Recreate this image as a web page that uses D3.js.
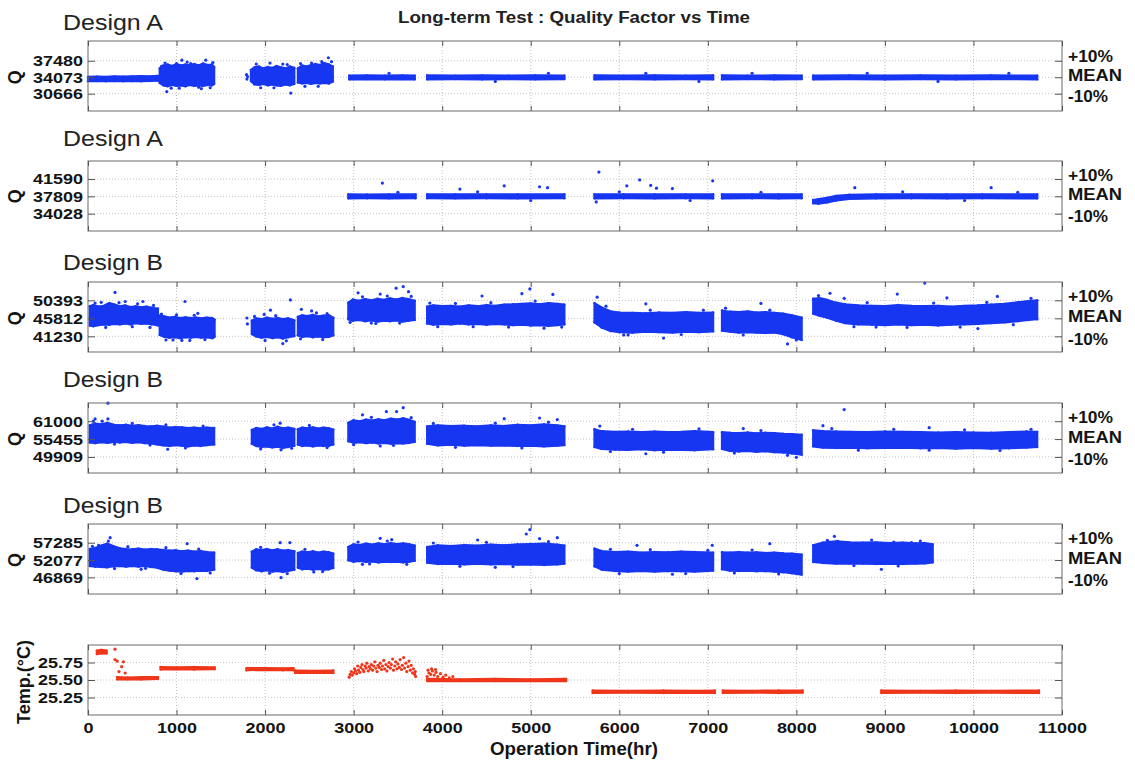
<!DOCTYPE html>
<html><head><meta charset="utf-8">
<script src="https://cdn.jsdelivr.net/npm/d3@7"></script>
<style>body{margin:0;background:#fff}svg{display:block}</style>
</head><body><svg id="c" width="1135" height="763"></svg>
<script>
// ---------------- DATA ----------------
const chartTitle = "Long-term Test : Quality Factor vs Time";
const xLabel = "Operation Time(hr)";
const xTicks = [0,1000,2000,3000,4000,5000,6000,7000,8000,9000,10000,11000];
const panelTitles = ["Design A","Design A","Design B","Design B","Design B",""];
const qMeans = [34073,37809,45812,55455,52077];
const qTicks = [[37480,34073,30666],[41590,37809,34028],[50393,45812,41230],[61000,55455,49909],[57285,52077,46869]];
const tempTicks = [25.75,25.50,25.25];
const rightLabels = ["+10%","MEAN","-10%"];

// bands: [time(hr), low Q, high Q] per continuous run; points: [time, Q] scattered samples
const a1Bands = [
 [[0,33250,34150],[100,33300,34200],[200,33250,34150],[300,33300,34250],[400,33250,34200],[500,33300,34250],[600,33250,34300],[700,33300,34250],[790,33350,34350]],
 [[810,32900,35900],[850,32400,36500],[900,32200,36700],[950,32500,36400],[1000,32300,36800],[1050,32400,36500],[1100,32200,36700],[1150,32500,36600],[1200,32300,36800],[1250,32400,36500],[1300,32300,36900],[1350,32500,36600],[1400,32400,36700],[1425,32700,36200]],
 [[1840,33300,35600],[1880,32600,36100],[1930,32500,36300],[1980,32700,35900],[2030,32400,36200],[2080,32600,36000],[2130,32400,36400],[2180,32300,36100],[2230,32600,35900],[2280,32400,36300],[2330,32700,36000]],
 [[2370,33000,35900],[2420,32800,36500],[2470,32900,36300],[2520,32700,36600],[2570,32900,36800],[2620,32800,36600],[2670,32900,37000],[2720,32800,36700],[2765,33200,36300]],
 [[2950,33650,34400],[3150,33700,34450],[3350,33650,34400],[3550,33700,34450],[3690,33650,34400]],
 [[3830,33650,34450],[4150,33700,34400],[4450,33650,34450],[4750,33700,34400],[5050,33650,34450],[5380,33700,34400]],
 [[5720,33650,34450],[6050,33700,34400],[6400,33650,34450],[6750,33700,34400],[7060,33650,34450]],
 [[7160,33650,34450],[7450,33700,34400],[7750,33650,34450],[8060,33700,34400]],
 [[8190,33650,34400],[8600,33700,34450],[9000,33650,34400],[9400,33700,34450],[9800,33650,34400],[10200,33700,34450],[10720,33650,34400]]
];
const a1Points = [[890,31100],[1060,37600],[1160,36900],[1330,37600],[940,31800],[1250,32000],[1000,36900],[830,36300],[1380,31900],[1790,34600],[1795,33700],[1802,34200],[2055,37000],[2290,30800],[2200,36800],[1950,31900],[2525,37000],[2715,38100],[2640,37300],[2450,32200],
 [870,37000],[1030,31800],[1120,37200],[1280,31700],[1410,37100],[1900,36800],[2100,31900],[2250,36700],[2400,36900],[2600,32200],[2750,37300],
 [3400,34900],[4600,33200],[5200,34900],[6300,34900],[6900,33200],[7500,34900],[8800,34900],[9600,33200],[10400,34900]];

const a2Bands = [
 [[2940,37380,38240],[3150,37400,38200],[3400,37380,38240],[3700,37400,38220]],
 [[3830,37400,38240],[4150,37380,38220],[4500,37400,38240],[4850,37380,38220],[5380,37400,38240]],
 [[5720,37380,38240],[6050,37400,38220],[6400,37380,38240],[6750,37400,38220],[7060,37380,38240]],
 [[7160,37380,38240],[7500,37400,38220],[7800,37380,38240],[8060,37400,38220]],
 [[8190,36300,37000],[8250,36200,37200],[8350,36500,37500],[8450,36900,37900],[8600,37250,38150],[8900,37380,38240],[9300,37400,38220],[9700,37380,38240],[10100,37400,38220],[10720,37380,38240]]
];
const a2Points = [[3325,40700],[4700,40100],[5190,39700],[5100,39900],[5770,43100],[6085,40100],[6230,41400],[6355,40200],[6420,39600],[7055,41200],[5740,36600],[8660,39700],[10200,39700],[4200,39400],[6600,39500],
 [3500,38700],[4400,38800],[5000,36900],[6000,38800],[6800,36900],[7600,38700],[9200,38800],[9900,36900],[10500,38700]];

const b1Bands = [
 [[20,44000,48900],[60,43800,49200],[120,44100,48800],[180,44300,49000],[240,44200,49700],[300,44400,49300],[360,44300,48900],[420,44500,49100],[480,44300,48700],[540,44600,48900],[600,44400,48600],[660,44500,48800],[720,44300,48500],[790,44000,48300]],
 [[810,41600,46500],[860,41100,46300],[920,40900,46000],[980,41000,46200],[1040,40800,45900],[1100,41000,46100],[1160,40900,45900],[1220,41100,46000],[1280,40900,45800],[1340,41000,46000],[1400,40800,45900],[1430,41200,45500]],
 [[1850,41800,45200],[1900,41200,45800],[1960,40900,45600],[2020,41100,46000],[2080,40800,45700],[2140,41000,45900],[2200,40700,45600],[2260,41000,45800],[2330,41300,45300]],
 [[2370,41500,46200],[2420,41100,46600],[2480,41300,46400],[2540,41000,46700],[2600,41200,46300],[2660,41000,46500],[2720,41100,46600],[2770,41500,46000]],
 [[2940,45600,49800],[2990,45200,50600],[3060,45400,50300],[3130,45100,50700],[3200,45300,50400],[3270,45000,50800],[3340,45200,50500],[3410,45100,50900],[3480,45300,50600],[3550,45000,51000],[3620,45200,50700],[3690,45400,50300]],
 [[3830,44500,48800],[3900,44200,49100],[4000,44400,48900],[4100,44300,49000],[4200,44500,48800],[4300,44300,49100],[4400,44400,48900],[4500,44200,49200],[4600,44400,49000],[4700,44300,49300],[4800,44100,49400],[4900,44200,49500],[5000,44000,49600],[5100,44100,49400],[5200,43900,49700],[5300,44100,49500],[5380,44300,49300]],
 [[5720,44800,49700],[5800,43500,48600],[5900,42600,47600],[6000,42300,47300],[6150,42200,47200],[6300,42400,47100],[6450,42300,47300],[6600,42200,47200],[6750,42400,47400],[6900,42300,47200],[7060,42500,47300]],
 [[7160,42700,47800],[7250,42400,47500],[7350,42200,47400],[7450,42300,47600],[7550,42200,47300],[7650,42100,47400],[7750,42200,47200],[7850,41800,47000],[7950,41000,46600],[8060,40300,46000]],
 [[8190,47000,50800],[8260,46500,51000],[8350,46000,50500],[8450,45200,49800],[8550,44600,49400],[8700,44300,49100],[8850,44200,49000],[9000,44100,48900],[9150,44300,49200],[9300,44100,49000],[9450,44200,48900],[9600,44000,49000],[9750,44200,48800],[9900,44300,49000],[10050,44400,49100],[10200,44600,49300],[10350,44800,49500],[10500,45100,49900],[10620,45400,50200],[10720,45600,50400]]
];
const b1Points = [[305,52400],[420,50100],[620,50100],[150,49900],[700,43500],[1095,50100],[1240,47100],[1150,40200],[1410,40900],[960,40300],[1795,45900],[1800,44400],[2060,47900],[2285,50500],[2200,39400],[1990,46800],[2410,48100],[2525,47700],[2650,40400],[3050,52300],[3300,52000],[3480,53500],[3560,53900],[3620,52600],[3200,44600],[4990,53300],[4900,52100],[5250,51900],[4450,51500],[5150,43300],[5750,51200],[6300,49500],[6100,41600],[7600,49600],[7900,39300],[8380,52200],[8540,50900],[9450,54800],[9140,52000],[10270,51400],[10050,43200],[9700,51000],[6500,40800],[8900,43600],
 [80,49700],[200,43500],[350,49800],[500,43700],[560,49500],[740,49100],[830,46900],[880,40300],[1000,46700],[1060,40200],[1200,46600],[1320,40400],[1880,46300],[2000,40200],[2120,46500],[2240,40100],[2400,40600],[2580,47200],[2700,47000],
 [2960,44800],[3100,51300],[3250,44500],[3380,51500],[3520,44600],[3650,51400],[3860,49700],[3950,43700],[4150,49600],[4350,43700],[4550,49800],[4750,43600],[5050,50200],[5350,43600],
 [5850,48900],[6050,41600],[6350,47900],[6700,41700],[6950,47900],[7200,48400],[7400,41600],[7700,47900],[8000,40300],
 [8250,51600],[8650,43700],[8800,49800],[9250,43500],[9550,49700],[9850,43600],[10150,49900],[10450,44200],[10650,50900]];

const b2Bands = [
 [[20,54400,59700],[80,54200,60300],[150,54500,60000],[220,54300,60500],[290,54600,59900],[360,54400,59700],[430,54600,59900],[500,54300,59600],[570,54500,59800],[640,54200,59500],[710,54100,59400],[780,53800,59600],[850,53500,59300],[920,53300,59000],[990,53600,59200],[1060,53400,59100],[1130,53200,58900],[1200,53500,59000],[1270,53300,58800],[1340,53600,59000],[1425,53800,58900]],
 [[1850,54000,58300],[1900,53300,58900],[1960,53000,58600],[2020,53200,59100],[2080,52900,58700],[2140,53100,59300],[2200,52700,58800],[2260,53000,59000],[2330,53400,58600]],
 [[2370,53800,58500],[2420,53300,59000],[2480,53500,58800],[2540,53200,59100],[2600,53500,58700],[2660,53300,59000],[2720,53400,58800],[2770,53800,58400]],
 [[2940,54800,60500],[3000,54300,61300],[3070,54500,61000],[3140,54200,61500],[3210,54400,61200],[3280,54100,61600],[3350,54300,61300],[3420,54000,61800],[3490,54200,61500],[3560,54100,61900],[3630,54300,61400],[3690,54600,60800]],
 [[3830,54000,59400],[3950,53500,59700],[4100,53700,59500],[4250,53400,59600],[4400,53600,59400],[4550,53400,59700],[4700,53500,59500],[4850,53300,59900],[5000,53400,59700],[5150,53200,60000],[5300,53400,59700],[5380,53600,59400]],
 [[5720,53000,58500],[5800,52400,57900],[5950,52200,57700],[6100,52100,57800],[6250,52300,57600],[6400,52000,57800],[6550,52200,57600],[6700,52100,57700],[6850,52000,57900],[7060,52300,57600]],
 [[7160,52400,57600],[7250,51800,57400],[7350,51600,57300],[7450,51800,57500],[7550,51500,57200],[7650,51700,57400],[7750,51400,57300],[7850,51300,57100],[7950,51000,57000],[8060,50600,56800]],
 [[8190,53200,58200],[8300,52800,57900],[8450,52700,57800],[8600,52800,57700],[8800,52600,57600],[9000,52700,57800],[9200,52800,57700],[9400,52600,57600],[9600,52700,57500],[9800,52500,57600],[10000,52700,57500],[10200,52500,57400],[10400,52600,57600],[10600,52800,57800],[10720,53000,57700]]
];
const b2Points = [[225,66600],[225,61700],[80,61700],[160,61000],[900,52300],[2170,60400],[2180,52100],[3370,64000],[3485,64000],[3560,65200],[3100,63000],[3300,53300],[4700,61800],[5100,62000],[5300,61500],[5780,59500],[8540,64600],[8300,59600],[9500,59000],[6300,50900],[8000,49800],[7400,58700],
 [60,61000],[300,53900],[500,60300],[700,53600],[880,59900],[1100,52700],[1300,59500],[1950,52400],[2100,59900],[2300,52600],[2500,59700],[2700,52800],[3000,53700],[3200,62200],[3450,53500],[3650,62100],[3900,60300],[4150,52900],[4600,60400],[4900,52700],[5200,60700],[5900,51600],[6150,58500],[6500,51400],[6900,58600],[7300,51100],[7600,58100],[7900,50400],[8400,58700],[8700,52000],[9100,58500],[9500,52000],[9900,58300],[10300,51900],[10650,58500]];

const b3Bands = [
 [[20,50300,55400],[80,50100,55700],[150,50000,56400],[220,49900,57000],[290,50200,56200],[360,50300,55600],[430,50100,55400],[500,50300,55300],[570,50100,55500],[640,50300,55200],[710,50000,55400],[780,49800,55300],[850,49200,55100],[920,48900,54900],[990,48700,55000],[1060,48600,54700],[1130,48800,54900],[1200,48700,54600],[1270,48900,54800],[1340,48800,54500],[1425,49200,54300]],
 [[1850,49800,54600],[1900,49000,55300],[1960,48700,55100],[2020,49000,55400],[2080,48600,55000],[2140,48800,55300],[2200,48500,54900],[2260,48800,55100],[2330,49200,54700]],
 [[2370,49800,54200],[2420,49300,54600],[2480,49500,54400],[2540,49200,54700],[2600,49400,54300],[2660,49200,54600],[2720,49300,54400],[2770,49700,54000]],
 [[2940,52000,56000],[3000,51600,56800],[3070,51800,56600],[3140,51500,57000],[3210,51700,56700],[3280,51400,57100],[3350,51600,56800],[3420,51500,57200],[3490,51600,56900],[3560,51400,57100],[3630,51600,56800],[3690,51900,56400]],
 [[3830,51300,56000],[3950,50900,56500],[4100,51000,56300],[4250,50800,56600],[4400,51000,56400],[4550,50800,56700],[4700,50900,56500],[4850,50700,56800],[5000,50800,56900],[5150,50600,57000],[5300,50800,56700],[5380,51000,56400]],
 [[5720,50200,55500],[5800,49200,54800],[5950,48800,54500],[6100,48600,54600],[6250,48800,54300],[6400,48600,54500],[6550,48800,54400],[6700,48700,54600],[6850,48600,54500],[7060,48900,54300]],
 [[7160,49300,54400],[7250,48900,54300],[7350,48800,54500],[7450,48900,54300],[7550,48700,54400],[7650,48800,54200],[7750,48600,54300],[7850,48400,54100],[7950,48100,54000],[8060,47700,53700]],
 [[8190,51500,56500],[8300,51200,57300],[8450,51000,57700],[8600,51100,57400],[8750,51000,57300],[8900,50900,57400],[9050,51000,57200],[9200,50900,57300],[9350,51000,57100],[9450,51100,57200],[9540,51400,56800]]
];
const b3Points = [[230,57800],[250,58800],[120,56500],[600,49300],[1120,57000],[1230,46500],[2170,57300],[2280,57300],[2180,46800],[2550,48500],[3430,58200],[3300,58600],[3100,50800],[4990,61200],[4950,59900],[5100,58500],[5300,58800],[4400,58100],[4600,49900],[7050,56500],[8430,59200],[8470,57700],[8960,49300],[9300,57300],[9100,57500],[6200,56500],[7700,57000],[6600,47800],
 [50,56200],[300,49500],[450,56100],[650,49600],[880,55800],[1050,48000],[1250,55400],[1380,48200],[1950,55900],[2050,48100],[2250,48000],[2450,55300],[2650,48600],[3050,57500],[3180,50900],[3380,57800],[3600,50800],[3900,57200],[4200,50200],[4500,57400],[4800,50100],[5200,57600],[5900,55300],[6000,48000],[6350,55200],[6750,48000],[7000,55000],[7300,48200],[7500,55100],[7800,47900],[8350,58000],[8650,50400],[8850,58100],[9150,50300],[9400,57800]];

// temperature (deg C)
const tBands = [
 [[100,25.87,25.92],[150,25.88,25.93],[210,25.88,25.92]],
 [[330,25.51,25.54],[450,25.51,25.535],[600,25.51,25.54],[790,25.515,25.54]],
 [[820,25.65,25.685],[1000,25.655,25.68],[1200,25.65,25.685],[1430,25.655,25.68]],
 [[1790,25.64,25.67],[2000,25.645,25.67],[2200,25.64,25.665],[2320,25.64,25.67]],
 [[2340,25.60,25.635],[2550,25.605,25.63],[2770,25.60,25.635]],
 [[3830,25.485,25.515],[4200,25.485,25.51],[4600,25.485,25.515],[5000,25.485,25.51],[5400,25.485,25.515]],
 [[5700,25.315,25.35],[6100,25.32,25.345],[6500,25.315,25.35],[6900,25.32,25.345],[7080,25.315,25.35]],
 [[7170,25.315,25.35],[7500,25.32,25.345],[7800,25.315,25.35],[8070,25.32,25.35]],
 [[8960,25.315,25.35],[9400,25.32,25.345],[9800,25.315,25.35],[10200,25.32,25.345],[10740,25.315,25.35]]
];
const tPoints = [[305,25.94],[305,25.79],[330,25.77],[380,25.69],[400,25.76],[350,25.62],[420,25.6],
 [2950,25.54],[2960,25.58],[2975,25.62],[2985,25.57],[3000,25.6],[3010,25.66],[3020,25.63],[3035,25.59],[3045,25.7],[3055,25.64],[3070,25.61],[3080,25.68],[3095,25.72],[3105,25.65],[3115,25.62],[3130,25.7],[3140,25.67],[3150,25.74],[3165,25.63],[3175,25.69],[3190,25.66],[3200,25.72],[3215,25.64],[3225,25.7],[3240,25.76],[3250,25.67],[3265,25.62],[3275,25.71],[3290,25.68],[3300,25.74],[3315,25.65],[3325,25.7],[3340,25.78],[3350,25.66],[3365,25.72],[3375,25.63],[3390,25.69],[3400,25.75],[3415,25.67],[3425,25.72],[3440,25.8],[3450,25.64],[3465,25.7],[3475,25.76],[3490,25.66],[3500,25.73],[3515,25.68],[3525,25.79],[3540,25.65],[3550,25.71],[3565,25.82],[3575,25.67],[3590,25.74],[3600,25.62],[3615,25.69],[3625,25.77],[3640,25.64],[3650,25.71],[3665,25.6],[3675,25.66],[3690,25.58],[3700,25.55],[3695,25.62],
 [3830,25.55],[3840,25.64],[3850,25.6],[3870,25.58],[3880,25.66],[3890,25.63],[3910,25.57],[3925,25.65],[3930,25.61],[3950,25.55],[3980,25.59],[4010,25.54],[4040,25.57],[4080,25.53],[4120,25.55]];

// ---------------- LAYOUT / STYLE ----------------
const W = 1135, Hc = 763;
const X_RANGE = [88, 1062];
const TOPS = [41, 161, 282, 403, 524, 645];
const PH = 70;
const yFrac = [[0.795,1.22],[0.80,1.204],[0.813,1.202],[0.81,1.202],[0.804,1.208]];
const titleBaselines = [30, 146, 270, 387, 513];
const BLUE = "#1736f2", RED = "#f0361a", GRID = "#c4c4c4", BOX = "#6a6a6a", TXT = "#141414";
const FONT = "'Liberation Sans', Arial, Helvetica, sans-serif";

const svg = d3.select("#c");
svg.append("rect").attr("width", W).attr("height", Hc).attr("fill", "#fff");
const x = d3.scaleLinear().domain([0, 11000]).range(X_RANGE);

const panels = [
  {bands:a1Bands, points:a1Points, ticks:qTicks[0], domain:[qMeans[0]*yFrac[0][0], qMeans[0]*yFrac[0][1]], color:BLUE, ylabel:"Q", fmt:d3.format("d"), right:true},
  {bands:a2Bands, points:a2Points, ticks:qTicks[1], domain:[qMeans[1]*yFrac[1][0], qMeans[1]*yFrac[1][1]], color:BLUE, ylabel:"Q", fmt:d3.format("d"), right:true},
  {bands:b1Bands, points:b1Points, ticks:qTicks[2], domain:[qMeans[2]*yFrac[2][0], qMeans[2]*yFrac[2][1]], color:BLUE, ylabel:"Q", fmt:d3.format("d"), right:true},
  {bands:b2Bands, points:b2Points, ticks:qTicks[3], domain:[qMeans[3]*yFrac[3][0], qMeans[3]*yFrac[3][1]], color:BLUE, ylabel:"Q", fmt:d3.format("d"), right:true},
  {bands:b3Bands, points:b3Points, ticks:qTicks[4], domain:[qMeans[4]*yFrac[4][0], qMeans[4]*yFrac[4][1]], color:BLUE, ylabel:"Q", fmt:d3.format("d"), right:true},
  {bands:tBands, points:tPoints, ticks:tempTicks, domain:[25.0, 26.0], color:RED, ylabel:"Temp.(\u00B0C)", fmt:d3.format(".2f"), right:false}
];

function styleAxis(g){
  g.select(".domain").remove();
  g.selectAll(".tick line").attr("stroke", "#555").attr("stroke-width", 1);
  g.selectAll(".tick text").attr("font-family", FONT).attr("font-size", 15.5).attr("font-weight", "bold")
    .attr("fill", TXT).attr("transform", "scale(1.16,1)");
}

panels.forEach((p, i) => {
  const top = TOPS[i], bot = top + PH;
  const y = d3.scaleLinear().domain(p.domain).range([bot, top]);
  const g = svg.append("g");

  // grid
  g.append("g").selectAll("line").data(xTicks.slice(1, -1)).join("line")
    .attr("x1", d => x(d)).attr("x2", d => x(d)).attr("y1", top).attr("y2", bot)
    .attr("stroke", GRID).attr("stroke-dasharray", "1,2");
  g.append("g").selectAll("line").data(p.ticks).join("line")
    .attr("x1", X_RANGE[0]).attr("x2", X_RANGE[1]).attr("y1", d => y(d)).attr("y2", d => y(d))
    .attr("stroke", GRID).attr("stroke-dasharray", "1,2");

  // data
  const area = d3.area().x(d => x(d[0])).y0(d => y(d[1])).y1(d => y(d[2]));
  const dg = g.append("g").attr("fill", p.color);
  dg.selectAll("path.band").data(p.bands).join("path").attr("class", "band")
    .attr("d", area).attr("stroke", p.color).attr("stroke-width", 2.2).attr("stroke-linejoin", "round");
  const edges = p.bands.flat().flatMap(d => [[d[0], d[1]], [d[0], d[2]]]);
  dg.selectAll("circle.edge").data(edges).join("circle").attr("class", "edge")
    .attr("cx", d => x(d[0])).attr("cy", d => y(d[1])).attr("r", 1.2);
  dg.selectAll("circle.pt").data(p.points).join("circle").attr("class", "pt")
    .attr("cx", d => x(d[0])).attr("cy", d => y(d[1])).attr("r", 1.6);

  // box
  g.append("rect").attr("x", X_RANGE[0]).attr("y", top)
    .attr("width", X_RANGE[1] - X_RANGE[0]).attr("height", PH)
    .attr("fill", "none").attr("stroke", BOX).attr("stroke-width", 1);

  // axes
  g.append("g").attr("transform", `translate(0,${top})`)
    .call(d3.axisTop(x).tickValues(xTicks).tickSizeInner(-5).tickSizeOuter(0).tickFormat(""))
    .call(styleAxis);
  g.append("g").attr("transform", `translate(0,${bot})`)
    .call(d3.axisBottom(x).tickValues(xTicks).tickSizeInner(-5).tickSizeOuter(0).tickPadding(7)
      .tickFormat(i === panels.length - 1 ? d3.format("d") : ""))
    .call(styleAxis);
  g.append("g").attr("transform", `translate(${X_RANGE[0]},0)`)
    .call(d3.axisLeft(y).tickValues(p.ticks).tickSizeInner(-7).tickSizeOuter(0).tickPadding(4.3).tickFormat(p.fmt))
    .call(styleAxis);
  g.append("g").attr("transform", `translate(${X_RANGE[1]},0)`)
    .call(d3.axisRight(y).tickValues(p.ticks).tickSizeInner(-7).tickSizeOuter(0).tickFormat(""))
    .call(styleAxis);

  // y label
  const yMid = i < 5 ? y(p.ticks[1]) : (top + bot) / 2 + 2;
  const lx = i < 5 ? 15 : 24;
  g.append("text").attr("transform", `translate(${lx},${yMid}) rotate(-90)`)
    .attr("text-anchor", "middle").attr("dominant-baseline", "central")
    .attr("font-family", FONT).attr("font-weight", "bold").attr("font-size", 18)
    .attr("fill", TXT).text(p.ylabel);

  // panel title
  if (panelTitles[i]) {
    g.append("text").attr("x", 63).attr("y", titleBaselines[i])
      .attr("font-family", FONT).attr("font-size", 22).attr("fill", "#222")
      .attr("textLength", 100).attr("lengthAdjust", "spacingAndGlyphs").text(panelTitles[i]);
  }

  // right labels
  if (p.right) {
    const offs = [-4, -2, 3];
    g.append("g").selectAll("text").data(rightLabels).join("text")
      .attr("x", 1068).attr("y", (d, k) => y(p.ticks[k]) + offs[k])
      .attr("dominant-baseline", "central")
      .attr("font-family", FONT).attr("font-weight", "bold").attr("font-size", 17)
      .attr("textLength", (d, k) => [45, 54, 40][k]).attr("lengthAdjust", "spacingAndGlyphs")
      .attr("fill", TXT).text(d => d);
  }
});

// chart title & x label
svg.append("text").attr("x", 574).attr("y", 23).attr("text-anchor", "middle")
  .attr("font-family", FONT).attr("font-weight", "bold").attr("font-size", 16).attr("fill", "#222")
  .attr("textLength", 352).attr("lengthAdjust", "spacingAndGlyphs").text(chartTitle);
svg.append("text").attr("x", 574).attr("y", 755).attr("text-anchor", "middle")
  .attr("font-family", FONT).attr("font-weight", "bold").attr("font-size", 18).attr("fill", TXT)
  .attr("textLength", 168).attr("lengthAdjust", "spacingAndGlyphs").text(xLabel);
</script>
</body></html>
